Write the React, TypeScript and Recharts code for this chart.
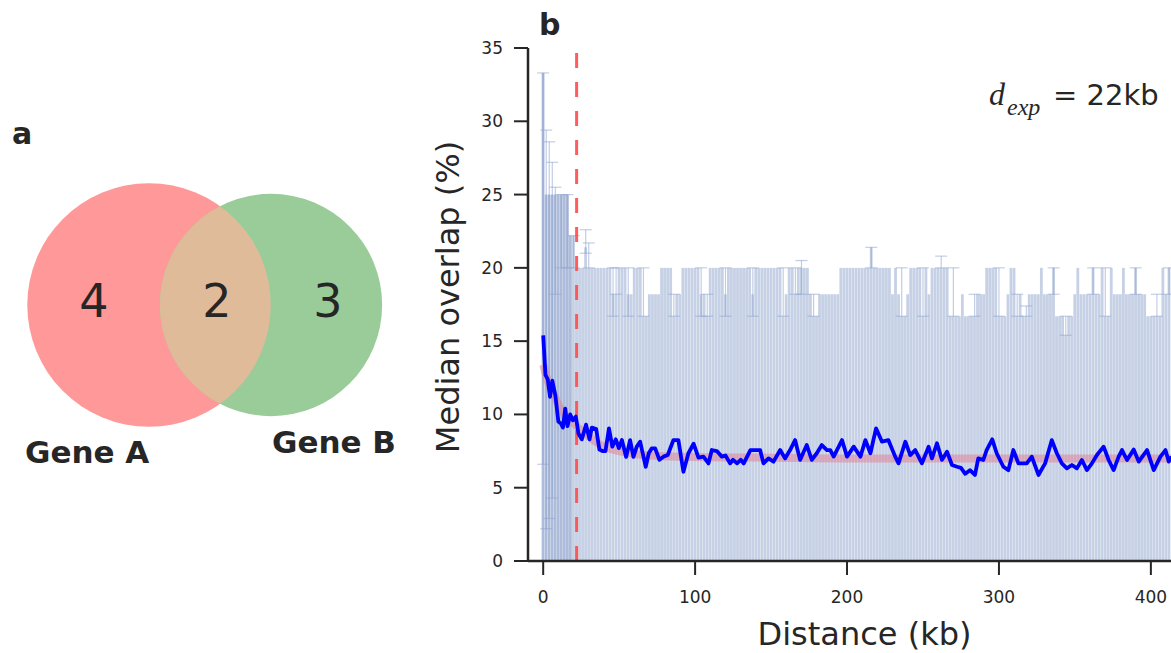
import {
  ComposedChart,
  Bar,
  Line,
  XAxis,
  YAxis,
  ReferenceLine,
  ErrorBar,
  Cell,
  ScatterChart,
  Scatter,
} from "recharts";

const FONT = "DejaVu Sans";
const INK = "#262626";

// panel a: Venn of genes
const vennSetNames = ["Gene A", "Gene B"];
const vennSetSizes = [6, 5]; // 4 + 2, 3 + 2
const vennRegionCounts = [4, 2, 3];
const vennColors = ["#ff9999", "#99cc99", "#e0bb99"];

// panel b: median overlap per 2 kb bin
const BIN_KB = 2;
const binMedian = [
  33.3, 25, 25, 25, 25, 25, 25, 25, 25, 22.2,
  22.2, 20, 20, 20, 21.4, 20, 20, 20, 20, 20,
  20, 20, 20, 18.2, 18.2, 20, 20, 20, 18.2, 18.2,
  20, 20, 20, 16.7, 16.7, 18.2, 18.2, 18.2, 18.2, 20,
  20, 20, 20, 16.7, 18.2, 18.2, 20, 20, 20, 20,
  20, 20, 18.2, 18.2, 16.7, 20, 20, 20, 20, 20,
  18.2, 20, 20, 20, 20, 20, 20, 20, 20, 18.2,
  20, 20, 20, 20, 20, 20, 20, 20, 20, 16.7,
  18.2, 20, 20, 18.2, 20, 20, 20, 20, 18.2, 16.7,
  16.7, 18.2, 18.2, 18.2, 18.2, 18.2, 18.2, 18.2, 20, 20,
  20, 20, 20, 20, 20, 20, 20, 20, 21.4, 20,
  20, 20, 20, 20, 20, 18.2, 20, 18.2, 16.7, 16.7,
  18.2, 20, 20, 20, 20, 16.7, 20, 18.2, 20, 20,
  20, 20, 20, 20, 16.7, 16.7, 16.7, 16.7, 18.2, 16.7,
  16.7, 16.7, 16.7, 18.2, 18.2, 18.2, 20, 20, 20, 20,
  16.7, 16.7, 16.7, 18.2, 20, 20, 16.7, 18.2, 16.7, 16.7,
  18.2, 18.2, 18.2, 18.2, 20, 18.2, 18.2, 18.2, 20, 16.7,
  16.7, 16.7, 15.4, 16.7, 16.7, 18.2, 20, 18.2, 18.2, 18.2,
  18.2, 20, 18.2, 18.2, 20, 16.7, 16.7, 20, 18.2, 18.2,
  18.2, 20, 18.2, 18.2, 18.2, 20, 18.2, 18.2, 18.2, 16.7,
  16.7, 16.7, 16.7, 16.7, 20, 18.2, 20,
];

// [kb, low, high] of the bootstrap interval, where it shows
const binInterval: [number, number, number][] = [
  [0, 6.6, 33.3], [2, 2.2, 29.4], [4, 2.9, 28.6], [6, 4.3, 27.2],
  [8, 18.2, 25.5], [12, 20, 25], [16, 20, 25], [20, 20, 22.2],
  [28, 21, 22.6], [30, 20, 21.7], [46, 16.7, 20], [48, 18.2, 20],
  [56, 16.7, 20], [66, 16.7, 20], [86, 16.7, 18.2], [104, 16.7, 20],
  [108, 16.7, 18.2], [120, 16.7, 20], [138, 16.7, 20], [158, 16.7, 20],
  [166, 18.2, 20], [170, 18.2, 20.5], [178, 16.7, 18.2], [216, 20, 21.4],
  [236, 16.7, 20], [250, 16.7, 20], [262, 20, 20.8], [270, 16.7, 20],
  [284, 16.7, 18.2], [300, 16.7, 20], [312, 16.7, 18.2], [318, 16.7, 17.4],
  [336, 18.2, 20], [344, 15.4, 16.7], [362, 18.2, 20], [370, 16.7, 20],
  [390, 18.2, 20], [404, 16.7, 18.2], [412, 18.2, 20],
];

// running median [kb, %]
const smoothedOverlap: [number, number][] = [
  [0, 15.4], [1.5, 12.7], [3, 12.4], [4.5, 11.2], [6, 12.3], [8, 11.3],
  [10, 9.5], [11.5, 9.4], [13, 9.1], [14.5, 10.4], [16, 9.2], [17.8, 10.0],
  [19.5, 9.6], [21.5, 9.85], [23.2, 8.7], [25.4, 8.3], [28.2, 9.3], [30.5, 8.3],
  [32, 9.1], [34.9, 9.0], [37, 7.6], [39, 7.5], [41, 7.5], [43.3, 9.05],
  [45.5, 7.8], [47.8, 8.3], [49.8, 7.7], [51.8, 8.25], [54.6, 7.1], [57.2, 8.25],
  [59.4, 7.1], [61.6, 7.8], [63.8, 8.14], [67.5, 6.43], [69.5, 7.35], [71.5, 7.69],
  [73.7, 7.69], [76.5, 6.9], [79.2, 7.12], [82, 7.23], [85.7, 8.25], [89, 8.25],
  [92.3, 6.09], [95.6, 7.35], [99, 8.0], [102.2, 7.05], [105.5, 7.12], [108.8, 6.66],
  [111, 7.57], [114.3, 7.5], [117.6, 7.12], [120, 7.2], [123, 6.66], [125, 6.9],
  [127.6, 6.66], [130, 6.9], [132, 6.66], [136.4, 7.57], [139.5, 7.57], [142.8, 7.57],
  [145, 6.66], [148.3, 7.0], [151.6, 6.78], [156, 7.57], [159.2, 7.0], [162.5, 7.57],
  [165.8, 8.25], [169.1, 6.9], [173.5, 7.91], [176.8, 6.9], [180.1, 7.35], [183.4, 7.91],
  [186.8, 7.57], [189, 7.57], [191.2, 7.12], [196.7, 8.25], [200, 7.12], [204.4, 7.8],
  [208.8, 7.12], [212.1, 8.25], [215.4, 7.35], [219.1, 9.05], [223, 8.14], [227.2, 8.25],
  [231.7, 7.12], [233.9, 6.66], [238.4, 8.14], [241.6, 7.23], [244.9, 7.57], [249.3, 6.66],
  [253.7, 7.8], [255.9, 7.0], [259.2, 8.03], [262.5, 6.9], [265.8, 7.46], [269.1, 6.55],
  [272.4, 6.43], [275, 6.35], [277.8, 5.95], [280.9, 6.2], [284.2, 5.87], [286.4, 7.0],
  [289.7, 6.89], [291.9, 7.57], [295.6, 8.3], [298.5, 7.35], [302.9, 6.43], [306.2, 6.2],
  [309.5, 7.57], [312.8, 6.66], [318.3, 6.66], [321.6, 7.12], [326, 5.87], [330.4, 6.66],
  [334.8, 8.25], [338.1, 7.35], [341.4, 6.66], [344.7, 6.32], [348, 6.55], [351.3, 6.32],
  [354.6, 6.89], [357.9, 6.2], [361.2, 6.66], [364.5, 7.23], [368.9, 7.8], [372.2, 6.89],
  [375.5, 6.2], [378.8, 7.12], [381, 7.57], [384.3, 6.89], [388.7, 7.6], [392, 6.78],
  [397.5, 7.57], [401.9, 6.2], [406.3, 7.12], [409.6, 7.57], [411.8, 6.78], [413.6, 7.12],
];

// exponential fit [kb, %]
const expFit: [number, number][] = [
  [0, 13.4], [4, 12.0], [8, 11.1], [12, 10.3], [16, 9.8], [20, 9.4],
  [25, 8.9], [30, 8.5], [35, 8.1], [40, 7.8], [50, 7.5], [60, 7.3],
  [80, 7.15], [100, 7.1], [150, 7.05], [200, 7.0], [414, 7.0],
];

const dExpKb = 22;
const xTicks = [0, 100, 200, 300, 400];
const yTicks = [0, 5, 10, 15, 20, 25, 30, 35];

const barData = binMedian.map((median, i) => {
  const kb = i * BIN_KB;
  const ci = binInterval.find((c) => c[0] === kb);
  return {
    kb,
    median,
    ci: ci ? [Math.max(0, median - ci[1]), Math.max(0, ci[2] - median)] : undefined,
  };
});
const smoothData = smoothedOverlap.map(([kb, v]) => ({ kb, smooth: v }));
const fitData = expFit.map(([kb, v]) => ({ kb, fit: v }));

// px per kb on the x axis: 673 px plot width over 443 kb
const BAR_PX = (BIN_KB * 673) / 443;

// bars keep a fixed pixel width centred on the bin
function BinBar(props: any) {
  const { x, y, width, height, fill } = props;
  if (height == null || !(height > 0)) return null;
  const cx = x + (width || 0) / 2;
  return <rect x={cx - BAR_PX / 2} y={y} width={BAR_PX * 0.92} height={height} fill={fill} />;
}

// venn layout (px)
const VENN_SCALE = 49.7;
const VENN_A = { x: 149, y: 305 };
const VENN_GAP = 122;

const vennR = vennSetSizes.map((s) => VENN_SCALE * Math.sqrt(s));
const vennData = [
  { x: VENN_A.x, y: VENN_A.y, kind: "a", r: vennR[0] },
  { x: VENN_A.x + VENN_GAP, y: VENN_A.y, kind: "b", r: vennR[1] },
  { x: VENN_A.x + VENN_GAP, y: VENN_A.y, kind: "ab", r: vennR[1] },
];

function VennShape(props: any) {
  const { cx, cy, payload } = props;
  if (payload.kind === "a") return <circle cx={cx} cy={cy} r={payload.r} fill={vennColors[0]} />;
  if (payload.kind === "b") return <circle cx={cx} cy={cy} r={payload.r} fill={vennColors[1]} />;
  return (
    <g>
      <defs>
        <clipPath id="vennClipA">
          <circle cx={cx - VENN_GAP} cy={cy} r={vennR[0]} />
        </clipPath>
      </defs>
      <circle cx={cx} cy={cy} r={payload.r} fill={vennColors[2]} clipPath="url(#vennClipA)" />
    </g>
  );
}

export default function App() {
  const tickStyle = { fill: INK, fontSize: 17, fontFamily: FONT };
  return (
    <div
      style={{
        position: "fixed",
        left: 0,
        top: 0,
        width: 1171,
        height: 653,
        overflow: "hidden",
        background: "#fff",
      }}
    >
      <div style={{ position: "absolute", left: 0, top: 0 }}>
        <ScatterChart width={400} height={500} margin={{ top: 0, right: 0, bottom: 0, left: 0 }}>
          <XAxis type="number" dataKey="x" domain={[0, 400]} hide />
          <YAxis type="number" dataKey="y" domain={[0, 500]} reversed hide />
          <Scatter data={vennData} shape={VennShape} isAnimationActive={false} />
        </ScatterChart>
      </div>

      <div style={{ position: "absolute", left: 0, top: 0 }}>
        <ComposedChart
          width={1210}
          height={653}
          data={barData}
          margin={{ top: 48, right: 9, bottom: 32, left: 438 }}
        >
          <XAxis
            type="number"
            dataKey="kb"
            domain={[-10, 433]}
            ticks={xTicks}
            allowDataOverflow
            height={60}
            stroke={INK}
            axisLine={{ stroke: INK, strokeWidth: 2.5 }}
            tickLine={{ stroke: INK, strokeWidth: 2 }}
            tickSize={14}
            tickMargin={16}
            tick={tickStyle}
          />
          <YAxis
            type="number"
            domain={[0, 35]}
            ticks={yTicks}
            width={90}
            stroke={INK}
            axisLine={{ stroke: INK, strokeWidth: 2.5 }}
            tickLine={{ stroke: INK, strokeWidth: 2 }}
            tickSize={14}
            tickMargin={11}
            tick={tickStyle}
          />
          <Bar dataKey="median" barSize={3} shape={BinBar} isAnimationActive={false}>
            {barData.map((d) => (
              <Cell key={d.kb} fill={d.kb <= 18 ? "#adbcda" : "#c6d1e5"} />
            ))}
            <ErrorBar dataKey="ci" width={6} stroke="#8fa4cf" strokeWidth={1.2} strokeOpacity={0.55} />
          </Bar>
          <ReferenceLine
            x={dExpKb}
            stroke="#ff4b4b"
            strokeOpacity={0.9}
            strokeWidth={3}
            strokeDasharray="15 14"
          />
          <Line
            data={fitData}
            dataKey="fit"
            type="monotone"
            stroke="#e07b91"
            strokeOpacity={0.5}
            strokeWidth={8}
            dot={false}
            isAnimationActive={false}
          />
          <Line
            data={smoothData}
            dataKey="smooth"
            type="linear"
            stroke="#0000ff"
            strokeWidth={3.8}
            strokeLinejoin="round"
            dot={false}
            isAnimationActive={false}
          />
        </ComposedChart>
      </div>

      <svg
        width={1171}
        height={653}
        style={{ position: "absolute", left: 0, top: 0, pointerEvents: "none" }}
        fontFamily={FONT}
        fill={INK}
      >
        <text x={12} y={144} fontSize={30} fontWeight="bold">a</text>
        <text x={539} y={35} fontSize={30} fontWeight="bold">b</text>

        <text x={94} y={317} fontSize={46} textAnchor="middle">{vennRegionCounts[0]}</text>
        <text x={217} y={317} fontSize={46} textAnchor="middle">{vennRegionCounts[1]}</text>
        <text x={328} y={317} fontSize={46} textAnchor="middle">{vennRegionCounts[2]}</text>
        <text x={25} y={463} fontSize={31} fontWeight="bold">{vennSetNames[0]}</text>
        <text x={272} y={453} fontSize={31} fontWeight="bold">{vennSetNames[1]}</text>

        <text x={989} y={105} fontSize={32} fontStyle="italic" fontFamily="Liberation Serif">d</text>
        <text x={1007} y={115} fontSize={24} fontStyle="italic" fontFamily="Liberation Serif">exp</text>
        <text x={1053} y={105} fontSize={29}>= {dExpKb}kb</text>

        <text x={864.5} y={645} fontSize={32} textAnchor="middle">Distance (kb)</text>
        <text
          x={459}
          y={297}
          fontSize={32}
          textAnchor="middle"
          transform="rotate(-90 459 297)"
        >
          Median overlap (%)
        </text>
      </svg>
    </div>
  );
}
